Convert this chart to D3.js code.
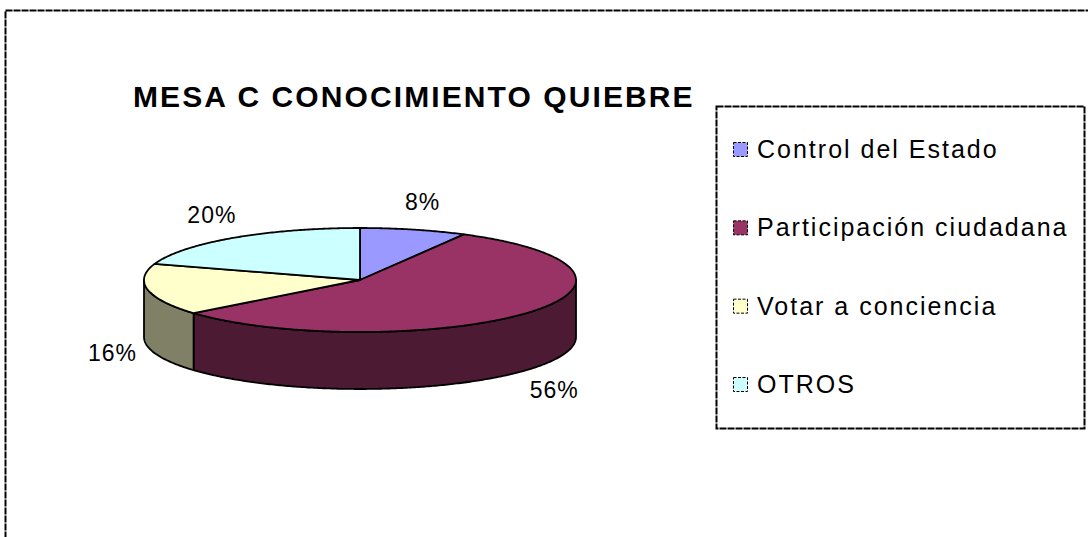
<!DOCTYPE html>
<html>
<head>
<meta charset="utf-8">
<script src="https://cdn.jsdelivr.net/npm/d3@7"></script>
<style>
  html, body { margin: 0; padding: 0; background: #fff; }
  svg { display: block; }
  text { font-family: "Liberation Sans", Arial, sans-serif; fill: #000; }
</style>
</head>
<body>
<svg id="chart" width="1088" height="537"></svg>
<script>
const title = "MESA C CONOCIMIENTO QUIEBRE";
const categories = ["Control del Estado", "Participación ciudadana", "Votar a conciencia", "OTROS"];
const values = [8, 56, 16, 20];
const pctLabels = ["8%", "56%", "16%", "20%"];
const topColors = ["#9999FF", "#993366", "#FFFFCC", "#CCFFFF"];
const sideColors = ["#4D4D80", "#4D1A33", "#808066", "#668080"];

const svg = d3.select("#chart");

// outer chart border (dashed, extends past right/bottom)
svg.append("rect")
  .attr("x", 5.5).attr("y", 10.5)
  .attr("width", 1100).attr("height", 600)
  .attr("fill", "none").attr("stroke", "#000")
  .attr("stroke-width", 2).attr("stroke-dasharray", "7,1");

// title
svg.append("text")
  .attr("x", 133).attr("y", 107)
  .attr("font-size", 30).attr("font-weight", "bold")
  .attr("letter-spacing", 2.1)
  .text(title);

// 3D pie geometry
const cx = 360, cy = 280, rx = 216, ry = 52, depth = 57;
const pie = d3.pie().sort(null).value(d => d.value).startAngle(0).endAngle(2 * Math.PI);
const data = categories.map((c, i) => ({ cat: c, value: values[i], i }));
const arcs = pie(data);

const pt = (a, dz) => [cx + rx * Math.sin(a), cy - ry * Math.cos(a) + dz];
const samples = (a0, a1, dz) => {
  const n = Math.max(2, Math.ceil(Math.abs(a1 - a0) / 0.01));
  return d3.range(n + 1).map(k => pt(a0 + (a1 - a0) * k / n, dz));
};
const line = d3.line();

const g = svg.append("g");

// side walls (front half: angles between PI/2 and 3PI/2)
arcs.forEach(a => {
  const s = Math.max(a.startAngle, Math.PI / 2);
  const e = Math.min(a.endAngle, 3 * Math.PI / 2);
  if (e <= s) return;
  const pts = samples(s, e, 0).concat(samples(e, s, depth));
  g.append("path")
    .attr("d", line(pts) + "Z")
    .attr("fill", sideColors[a.data.i])
    .attr("stroke", "#000").attr("stroke-width", 1.8)
    .attr("stroke-linejoin", "round");
});

// top faces
arcs.forEach(a => {
  const pts = [[cx, cy]].concat(samples(a.startAngle, a.endAngle, 0));
  g.append("path")
    .attr("d", line(pts) + "Z")
    .attr("fill", topColors[a.data.i])
    .attr("stroke", "#000").attr("stroke-width", 1.8)
    .attr("stroke-linejoin", "round");
});

// percentage labels
const lox = 36, loy = 30;
arcs.forEach(a => {
  const m = (a.startAngle + a.endAngle) / 2;
  const x = cx + (rx + lox) * Math.sin(m);
  let y = cy - (ry + loy) * Math.cos(m);
  if (Math.cos(m) < 0) y += depth;
  svg.append("text")
    .attr("x", x).attr("y", y + 9)
    .attr("text-anchor", "middle")
    .attr("font-size", 23)
    .attr("letter-spacing", 1)
    .text(pctLabels[a.data.i]);
});

// legend
const lg = svg.append("g");
lg.append("rect")
  .attr("x", 716.5).attr("y", 106.5)
  .attr("width", 368).attr("height", 322)
  .attr("fill", "#fff").attr("stroke", "#000")
  .attr("stroke-width", 2).attr("stroke-dasharray", "7,1");

const ly = d3.scalePoint().domain(categories).range([158, 393]);
categories.forEach((c, i) => {
  const y = ly(c);
  lg.append("rect")
    .attr("x", 733.5).attr("y", y - 15.5)
    .attr("width", 14).attr("height", 14)
    .attr("fill", topColors[i])
    .attr("stroke", "#000").attr("stroke-width", 1)
    .attr("stroke-dasharray", "3,1.5");
  lg.append("text")
    .attr("x", 757).attr("y", y)
    .attr("font-size", 25)
    .attr("letter-spacing", 2)
    .text(c);
});
</script>
</body>
</html>
